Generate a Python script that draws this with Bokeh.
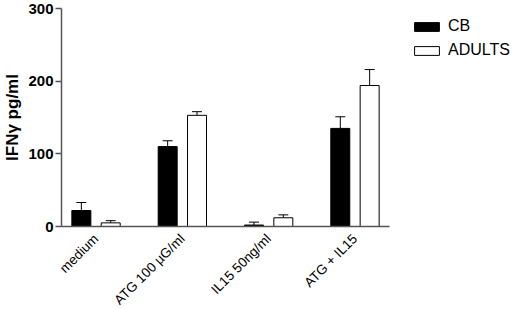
from bokeh.plotting import figure
from bokeh.models import (ColumnDataSource, FixedTicker, Whisker, TeeHead,
                          Legend, LegendItem, Range1d)
from bokeh.embed import file_html
from bokeh.resources import INLINE

categories = ["medium", "ATG 100 \u00b5G/ml", "IL15 50ng/ml", "ATG + IL15"]
cb_values = [22, 110, 2, 135]
cb_errors = [11, 8, 4, 16]
adult_values = [5, 153, 12, 194]
adult_errors = [3, 5, 4, 22]
y_ticks = [0, 100, 200, 300]

positions = [i + 1 for i in range(len(categories))]
offset = 0.17
bar_w = 0.22

cb_x = [p - offset for p in positions]
ad_x = [p + offset for p in positions]

src_cb = ColumnDataSource(dict(x=cb_x, top=cb_values,
                               upper=[v + e for v, e in zip(cb_values, cb_errors)]))
src_ad = ColumnDataSource(dict(x=ad_x, top=adult_values,
                               upper=[v + e for v, e in zip(adult_values, adult_errors)]))

p = figure(frame_width=328, frame_height=218, output_backend="svg",
           toolbar_location=None,
           x_range=Range1d(0.6, 4.4), y_range=Range1d(0, 300))
p.min_border_left = 61
p.min_border_right = 131
p.min_border_top = 8
p.min_border_bottom = 83
p.outline_line_color = None
p.grid.visible = False
p.background_fill_color = "white"
p.border_fill_color = "white"

for src in (src_cb, src_ad):
    w = Whisker(source=src, base="x", lower="top", upper="upper",
                line_color="black", line_width=1,
                upper_head=TeeHead(size=10, line_color="black", line_width=1),
                lower_head=None)
    p.add_layout(w)

r_cb = p.vbar(x="x", top="top", bottom=0, width=bar_w, source=src_cb,
              fill_color="black", line_color="black", line_width=1)
r_ad = p.vbar(x="x", top="top", bottom=0, width=bar_w, source=src_ad,
              fill_color="white", line_color="black", line_width=1)

# axes
ax = p.xaxis[0]
ax.ticker = FixedTicker(ticks=positions)
ax.major_label_overrides = {pos: lab for pos, lab in zip(positions, categories)}
ax.major_label_orientation = 0.785398
ax.major_tick_line_color = None
ax.minor_tick_line_color = None
ax.axis_line_color = "#555555"
ax.axis_line_width = 1.5
ax.major_label_text_font = "Liberation Sans"
ax.major_label_text_font_size = "13.5px"
ax.major_label_text_color = "black"
ax.major_label_standoff = 4

ay = p.yaxis[0]
ay.ticker = FixedTicker(ticks=y_ticks)
ay.minor_tick_line_color = None
ay.major_tick_in = 0
ay.major_tick_out = 6
ay.major_tick_line_color = "#555555"
ay.major_tick_line_width = 1.5
ay.axis_line_color = "#555555"
ay.axis_line_width = 1.5
ay.major_label_text_font = "Liberation Sans"
ay.major_label_text_font_style = "bold"
ay.major_label_text_font_size = "15px"
ay.major_label_text_color = "black"
ay.major_label_standoff = 2
ay.axis_label = "IFN\u03b3 pg/ml"
ay.axis_label_text_font = "Liberation Sans"
ay.axis_label_text_font_style = "bold"
ay.axis_label_text_font_size = "17px"
ay.axis_label_text_color = "black"
ay.axis_label_standoff = 3

legend = Legend(items=[LegendItem(label="CB", renderers=[r_cb]),
                       LegendItem(label="ADULTS", renderers=[r_ad])],
                location=(22, 167), orientation="vertical",
                glyph_width=31, glyph_height=11, label_standoff=6,
                spacing=6, padding=0, margin=0,
                label_text_font="Liberation Sans", label_text_font_size="16px",
                label_text_color="black",
                border_line_color=None, background_fill_alpha=0)
p.add_layout(legend, "right")

open("out.html", "w").write(file_html(p, INLINE))
